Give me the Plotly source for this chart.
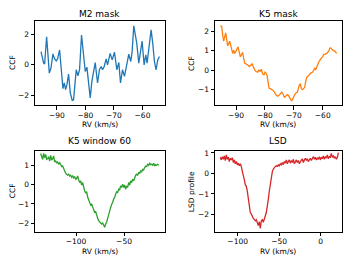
import plotly.graph_objects as go

# ---------------- data ----------------
m2_rv = [-95.6, -94.67, -94.32, -93.62, -92.68, -92.1, -91.4, -90.82, -90.23, -89.77,
         -89.07, -88.25, -87.9, -87.43, -86.97, -86.5, -85.92, -85.33, -84.63, -84.17,
         -83.23, -82.65, -82.07, -81.37, -80.67, -80.08, -79.5, -78.91, -78.33, -77.75,
         -76.58, -75.76, -75.06, -74.48, -74.01, -73.43, -72.73, -72.26, -71.33, -70.63,
         -69.81, -69.0, -68.3, -67.71, -67.01, -66.31, -65.5, -64.8, -64.1, -63.63,
         -63.05, -62.46, -62.0, -61.3, -60.71, -60.13, -59.43, -58.84, -58.38, -57.56,
         -56.98, -56.39, -55.81, -55.23, -54.64, -54.06]
m2_ccf = [0.86, 0.11, 0.06, 1.83, -0.54, -0.22, 0.71, 0.39, 0.26, 0.39,
          0.97, -1.08, -1.55, -1.18, -1.61, -1.29, -0.6, -1.83, -2.32, -2.28,
          -0.32, -0.71, -0.32, 1.94, 0.86, -0.43, -0.15, -1.08, -2.15, -1.08,
          0.15, -1.18, -0.28, -0.11, -0.32, -0.11, 0.39, 0.0, 0.75, 0.32,
          0.82, -0.32, 0.15, -1.18, -0.32, -0.75, 0.11, 0.69, 0.22, 0.86,
          2.54, 1.94, 1.4, 0.11, 0.86, 1.55, 0.0, 0.65, 0.11, 1.18,
          2.28, 1.4, 0.22, -0.32, 0.32, 0.54]

k5_rv = [-95.42, -94.96, -94.61, -94.27, -93.58, -92.88, -92.19, -91.5, -91.15, -90.81,
         -90.46, -90.0, -89.31, -88.5, -88.04, -87.69, -87.35, -87.0, -85.96, -85.39,
         -84.81, -84.46, -83.54, -83.08, -82.5, -82.04, -81.7, -81.23, -80.77, -80.31,
         -79.97, -79.62, -79.27, -78.93, -78.58, -78.12, -77.08, -76.04, -75.58, -75.12,
         -74.66, -74.2, -73.74, -73.28, -72.81, -72.35, -71.89, -71.55, -71.2, -70.85,
         -70.51, -70.16, -69.7, -69.24, -68.78, -68.43, -68.09, -67.74, -67.39, -66.93,
         -66.24, -65.89, -65.55, -64.86, -64.16, -63.47, -63.13, -62.78, -62.43, -62.09,
         -61.4, -60.7, -60.0, -59.65, -59.32, -58.63, -57.94, -57.6, -57.25, -56.56,
         -55.86, -55.17]
k5_ccf = [2.27, 2.25, 1.8, 1.49, 1.92, 1.25, 1.49, 1.03, 0.86, 1.03,
          0.86, 0.98, 1.2, 0.69, 0.81, 0.92, 0.61, 0.36, 0.27, 0.19,
          0.27, 0.32, 0.02, -0.07, -0.1, 0.02, -0.07, 0.05, -0.2, -0.24,
          -0.1, -0.15, -0.27, -0.75, -0.92, -0.95, -1.05, -1.29, -1.34, -1.29,
          -1.17, -1.12, -1.22, -1.39, -1.34, -1.25, -1.29, -1.39, -1.46, -1.56,
          -1.53, -1.39, -1.25, -1.17, -1.12, -0.95, -0.75, -0.71, -0.95, -1.0,
          -0.88, -0.58, -0.37, -0.27, -0.15, -0.1, 0.02, 0.1, 0.02, 0.19,
          0.41, 0.58, 0.69, 0.81, 0.81, 0.86, 0.98, 1.12, 1.15, 1.03,
          0.98, 0.86]

w60_rv = [-136.8, -135.8, -134.7, -133.7, -132.7, -131.6, -130.6, -129.5, -128.5, -127.4,
          -126.4, -125.3, -124.3, -123.3, -122.2, -121.2, -120.1, -119.1, -118.1, -117.0,
          -116.0, -114.9, -113.9, -112.8, -111.8, -110.8, -109.7, -108.7, -107.6, -106.6,
          -105.6, -104.5, -103.5, -102.4, -101.4, -100.3, -99.3, -98.3, -97.2, -96.2,
          -95.1, -94.1, -93.1, -92.0, -91.0, -89.9, -88.9, -87.8, -86.8, -85.8,
          -84.7, -83.7, -82.6, -81.6, -80.6, -79.5, -78.5, -77.4, -76.4, -75.3,
          -74.3, -73.3, -72.2, -71.2, -70.1, -69.1, -68.1, -67.0, -66.0, -64.9,
          -63.9, -62.8, -61.8, -60.8, -59.7, -58.7, -57.6, -56.6, -55.6, -54.5,
          -53.5, -52.4, -51.4, -50.3, -49.3, -48.3, -47.2, -46.2, -45.1, -44.1,
          -43.1, -42.0, -41.0, -39.9, -38.9, -37.8, -36.8, -35.8, -34.7, -33.7,
          -32.6, -31.6, -30.6, -29.5, -28.5, -27.4, -26.4, -25.3, -24.3, -23.3,
          -22.2, -21.2, -20.1, -19.1, -18.1, -17.0, -16.0, -14.9, -13.9]
w60_ccf = [1.60, 1.38, 1.29, 1.60, 1.38, 1.55, 1.29, 1.33, 1.43, 1.21,
           1.50, 1.26, 1.33, 1.47, 1.16, 1.21, 1.12, 1.16, 1.04, 1.12,
           0.99, 0.92, 0.95, 0.78, 0.65, 0.58, 0.53, 0.48, 0.53, 0.44,
           0.48, 0.37, 0.44, 0.34, 0.41, 0.27, 0.31, 0.44, 0.24, 0.10,
           0.19, -0.03, 0.10, -0.20, -0.32, -0.44, -0.37, -0.66, -0.83, -0.92,
           -1.06, -1.01, -1.18, -1.29, -1.43, -1.40, -1.60, -1.74, -1.86, -1.91,
           -1.94, -2.03, -1.98, -2.11, -2.20, -2.03, -1.94, -1.74, -1.52, -1.35,
           -1.18, -1.01, -0.92, -0.75, -0.66, -0.49, -0.37, -0.41, -0.24, -0.27,
           -0.07, -0.15, 0.02, -0.15, -0.03, -0.24, -0.07, -0.15, 0.10, -0.03,
           0.19, 0.10, 0.27, 0.19, 0.41, 0.48, 0.53, 0.48, 0.61, 0.58,
           0.70, 0.65, 0.78, 0.75, 0.87, 0.95, 0.92, 1.04, 0.99, 1.09,
           1.02, 1.04, 0.99, 1.09, 0.95, 1.02, 0.99, 1.04, 0.99]

lsd_rv = [-120.9, -119.7, -118.5, -117.3, -116.1, -114.9, -113.7, -112.5, -111.3, -110.1,
          -108.9, -107.6, -106.4, -105.2, -104.0, -102.8, -101.6, -100.4, -99.2, -98.0,
          -96.8, -95.6, -94.4, -93.2, -92.0, -90.8, -89.6, -88.4, -87.2, -86.0,
          -84.8, -83.5, -82.3, -81.1, -79.9, -78.7, -77.5, -76.3, -75.1, -73.9,
          -72.7, -71.5, -70.3, -69.1, -67.9, -66.7, -65.5, -64.3, -63.1, -61.9,
          -60.7, -59.4, -58.2, -57.0, -55.8, -54.6, -53.4, -52.2, -51.0, -49.8,
          -48.6, -47.4, -46.2, -45.0, -43.8, -42.6, -41.4, -40.2, -39.0, -37.8,
          -36.6, -35.3, -34.1, -32.9, -31.7, -30.5, -29.3, -28.1, -26.9, -25.7,
          -24.5, -23.3, -22.1, -20.9, -19.7, -18.5, -17.3, -16.1, -14.9, -13.7,
          -12.5, -11.3, -10.0, -8.8, -7.6, -6.4, -5.2, -4.0, -2.8, -1.6,
          -0.4, 0.8, 2.0, 3.2, 4.4, 5.6, 6.8, 8.0, 9.2, 10.4,
          11.6, 12.8, 14.1, 15.3, 16.5, 17.7, 18.9, 20.1, 21.3]
lsd_prof = [0.79, 0.66, 0.82, 0.69, 0.85, 0.63, 0.90, 0.69, 0.79, 0.58,
            0.74, 0.66, 0.77, 0.53, 0.66, 0.47, 0.58, 0.42, 0.50, 0.37,
            0.47, 0.34, 0.10, -0.06, -0.30, -0.55, -0.63, -0.87, -1.27, -1.67,
            -1.91, -1.99, -2.15, -2.20, -2.26, -2.31, -2.26, -2.39, -2.55, -2.36,
            -2.68, -2.31, -2.26, -2.39, -2.15, -2.07, -1.91, -1.67, -1.27, -0.87,
            -0.47, -0.11, 0.10, 0.21, 0.30, 0.34, 0.37, 0.34, 0.42, 0.37,
            0.47, 0.42, 0.53, 0.43, 0.58, 0.50, 0.66, 0.47, 0.58, 0.66,
            0.50, 0.63, 0.53, 0.69, 0.47, 0.58, 0.66, 0.53, 0.63, 0.47,
            0.58, 0.66, 0.69, 0.53, 0.66, 0.74, 0.63, 0.72, 0.58, 0.66,
            0.74, 0.63, 0.72, 0.82, 0.69, 0.79, 0.66, 0.75, 0.69, 0.82,
            0.66, 0.79, 0.72, 0.85, 0.69, 0.82, 0.75, 0.90, 0.72, 0.82,
            0.79, 0.98, 0.79, 0.85, 0.74, 0.82, 0.69, 0.79, 1.01]

for a, b in [(m2_rv, m2_ccf), (k5_rv, k5_ccf), (w60_rv, w60_ccf), (lsd_rv, lsd_prof)]:
    assert len(a) == len(b), (len(a), len(b))

titles = ["M2 mask", "K5 mask", "K5 window 60", "LSD"]
ylabels = ["CCF", "CCF", "CCF", "LSD profile"]
xlabel = "RV (km/s)"
colors = ["#1f77b4", "#ff7f0e", "#2ca02c", "#d62728"]

# ---------------- layout ----------------
# the page body has an 8px margin, so the figure is drawn 8px smaller and
# all pixel positions below are in viewport pixels, shifted by OFF.
OFF = 8
W, H = 352 - OFF, 264 - OFF
FONT = "DejaVu Sans"

def px(x):
    return (x - OFF) / W

def py(y):
    return 1 - (y - OFF) / H

# panel boxes in viewport pixels: (left, right, top, bottom)
boxes = [(35, 165, 19, 104), (215, 341.7, 19, 104),
         (35, 165, 150, 231.3), (215, 341.7, 150, 231.3)]
xranges = [[-97.7, -52.1], [-97.27, -53.44], [-142.7, -7.3], [-127.3, 25.3]]
yranges = [[-2.63, 2.86], [-1.8, 2.53], [-2.42, 1.73], [-2.84, 1.1]]
xticks = [[-90, -80, -70, -60], [-90, -80, -70, -60], [-100, -50], [-100, -50, 0]]
yticks = [[-2, 0, 2], [-1, 0, 1, 2], [-2, -1, 0, 1], [-2, -1, 0, 1]]
title_y = [12, 12, 140, 140]
xlabel_y = [123, 123, 251.5, 251.5]
ylabel_x = [12, 191, 12, 191]

fig = go.Figure()
data = [(m2_rv, m2_ccf), (k5_rv, k5_ccf), (w60_rv, w60_ccf), (lsd_rv, lsd_prof)]
annotations = []
for i, ((xs, ys), col) in enumerate(zip(data, colors)):
    n = "" if i == 0 else str(i + 1)
    fig.add_trace(go.Scatter(x=xs, y=ys, mode="lines",
                             line=dict(color=col, width=1.3),
                             xaxis="x" + n, yaxis="y" + n, showlegend=False))
    l, r, t, b = boxes[i]
    axcommon = dict(showline=True, linecolor="black", linewidth=0.8, mirror=True,
                    ticks="outside", ticklen=3.5, tickwidth=0.8, tickcolor="black",
                    showgrid=False, zeroline=False,
                    tickfont=dict(family=FONT, size=7.5, color="black"))
    fig.update_layout(**{
        "xaxis" + n: dict(domain=[px(l), px(r)], range=xranges[i], tickvals=xticks[i],
                          anchor="y" + n, ticklabelstandoff=-1, **axcommon),
        "yaxis" + n: dict(domain=[py(b), py(t)], range=yranges[i], tickvals=yticks[i],
                          anchor="x" + n, **axcommon),
    })
    cx = px((l + r) / 2)
    cy = py((t + b) / 2)
    annotations.append(dict(text=titles[i], x=cx, y=py(title_y[i]), xref="paper", yref="paper",
                            showarrow=False, xanchor="center", yanchor="middle",
                            font=dict(family=FONT, size=9, color="black")))
    annotations.append(dict(text=xlabel, x=cx, y=py(xlabel_y[i]), xref="paper", yref="paper",
                            showarrow=False, xanchor="center", yanchor="middle",
                            font=dict(family=FONT, size=7.5, color="black")))
    annotations.append(dict(text=ylabels[i], x=px(ylabel_x[i]), y=cy, xref="paper", yref="paper",
                            showarrow=False, xanchor="center", yanchor="middle", textangle=-90,
                            font=dict(family=FONT, size=7.5, color="black")))

fig.update_layout(width=W, height=H, margin=dict(l=0, r=0, t=0, b=0),
                  paper_bgcolor="white", plot_bgcolor="white",
                  annotations=annotations, font=dict(family=FONT))
fig.write_html("out.html")
